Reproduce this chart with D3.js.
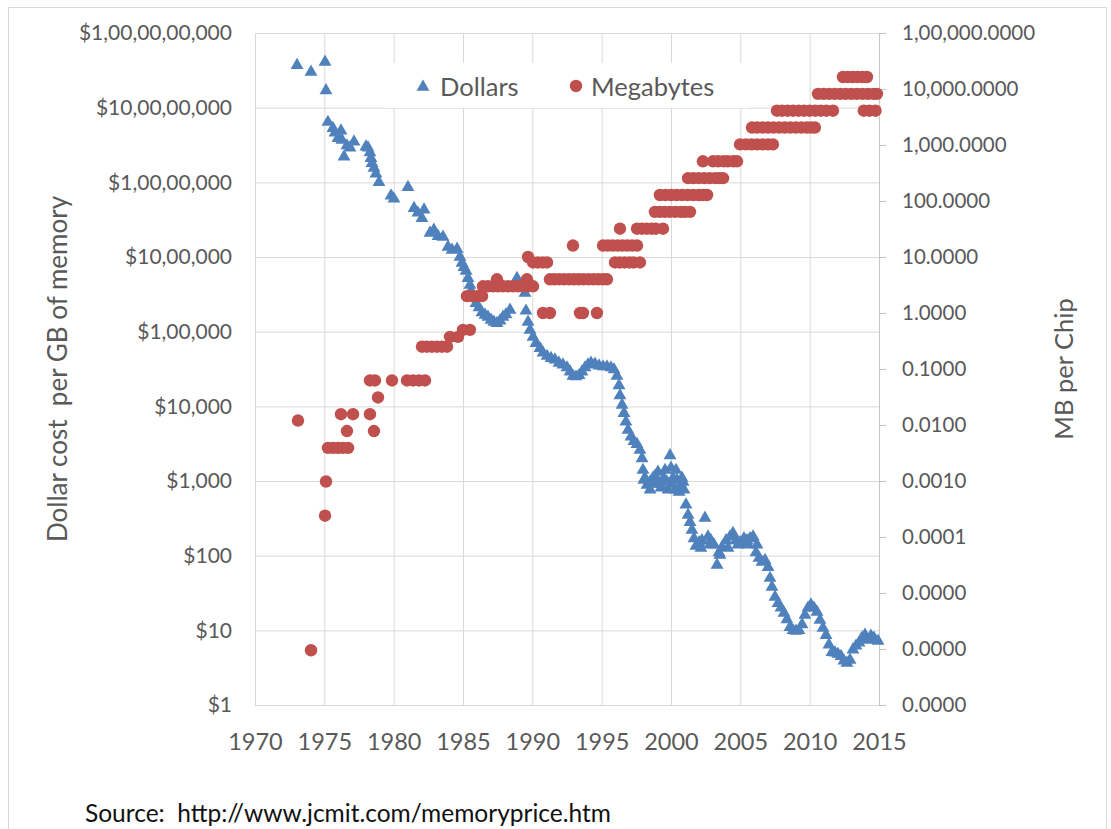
<!DOCTYPE html>
<html><head><meta charset="utf-8">
<script src="https://cdn.jsdelivr.net/npm/d3@7"></script>
<style>
body{margin:0;background:#fff}
svg text{font-family:Lato,"Open Sans",sans-serif}
</style>
</head><body>
<svg id="c" width="1111" height="829"></svg>
<script>
// ---------- data ----------
const xTicks = [1970,1975,1980,1985,1990,1995,2000,2005,2010,2015];
const leftTickValues = [1,10,100,1e3,1e4,1e5,1e6,1e7,1e8,1e9];
const leftTickLabels = ["$1","$10","$100","$1,000","$10,000","$1,00,000","$10,00,000","$1,00,00,000","$10,00,00,000","$1,00,00,00,000"];
const rightTickValues = [1e-7,1e-6,1e-5,1e-4,1e-3,1e-2,1e-1,1,10,100,1e3,1e4,1e5];
const rightTickLabels = ["0.0000","0.0000","0.0000","0.0001","0.0010","0.0100","0.1000","1.0000","10.0000","100.0000","1,000.0000","10,000.0000","1,00,000.0000"];
const seriesNames = ["Dollars","Megabytes"];

const dollarYears = [
1973.03,1974.04,1975.05,1975.12,1975.26,1975.62,1975.77,1975.98,1976.20,1976.27,
1976.42,1976.63,1976.85,1977.14,1978.00,1978.15,1978.29,1978.36,1978.44,1978.58,
1978.72,1978.94,1979.81,1980.02,1981.03,1981.47,1981.75,1982.04,1982.19,1982.62,
1982.90,1983.20,1983.56,1983.92,1984.21,1984.57,1984.78,1984.93,1985.07,1985.22,
1985.36,1985.50,1985.58,1985.72,1985.94,1986.15,1986.37,1986.59,1986.80,1987.02,
1987.23,1987.45,1987.67,1987.88,1988.10,1988.39,1988.89,1989.11,1989.47,1989.54,
1989.69,1989.83,1990.05,1990.26,1990.55,1990.77,1991.06,1991.35,1991.63,1991.92,
1992.21,1992.50,1992.72,1992.93,1993.15,1993.37,1993.58,1993.80,1994.01,1994.23,
1994.52,1994.81,1995.10,1995.38,1995.67,1995.89,1996.10,1996.25,1996.32,1996.47,
1996.61,1996.75,1996.90,1997.11,1997.33,1997.55,1997.76,1997.91,1997.98,1998.05,
1998.27,1998.49,1998.70,1998.92,1999.06,1999.28,1999.49,1999.71,1999.93,2000.00,
2000.14,2000.29,2000.43,2000.65,2000.79,2000.94,2001.08,2001.23,2001.37,2001.51,
2001.66,2001.80,2002.02,2002.23,2002.45,2002.67,2002.88,2003.10,2003.32,2003.46,
2003.68,2003.97,2004.26,2004.47,2004.69,2004.98,2005.26,2005.48,2005.70,2005.92,
2006.13,2006.35,2006.56,2006.78,2007.00,2007.14,2007.28,2007.50,2007.72,2007.93,
2008.15,2008.36,2008.58,2008.80,2009.01,2009.23,2009.45,2009.66,2009.88,2010.09,
2010.31,2010.53,2010.74,2010.96,2011.18,2011.39,2011.61,2011.83,2012.04,2012.26,
2012.47,2012.69,2012.91,2013.12,2013.34,2013.56,2013.77,2013.99,2014.20,2014.42,
2014.64,2014.93,
1998.12,1998.49,1998.85,1999.20,1999.57,1999.78,2000.07,2000.36,2000.58,2000.87,
2002.16,2002.81,2003.53,2004.11,2004.83,2005.55,2006.20];
const dollarValues = [
3.7e8,3.0e8,4.1e8,1.7e8,6.4e7,5.3e7,4.6e7,3.9e7,4.9e7,3.7e7,
2.2e7,3.1e7,2.9e7,3.5e7,3.0e7,2.9e7,2.5e7,2.1e7,1.8e7,1.55e7,
1.3e7,1.0e7,6.6e6,6.0e6,8.6e6,4.5e6,3.9e6,3.3e6,4.3e6,2.1e6,
2.3e6,1.9e6,1.85e6,1.36e6,1.24e6,1.28e6,1.0e6,8.3e5,7.3e5,6.5e5,
5.2e5,4.2e5,3.5e5,2.9e5,2.4e5,2.1e5,1.8e5,1.67e5,1.57e5,1.43e5,
1.35e5,1.3e5,1.4e5,1.57e5,1.7e5,1.95e5,5.2e5,4.2e5,3.3e5,1.9e5,
1.35e5,1.05e5,8.5e4,7.0e4,6.0e4,5.2e4,4.7e4,4.4e4,4.2e4,3.8e4,
3.6e4,3.3e4,2.9e4,2.55e4,2.5e4,2.6e4,2.9e4,3.3e4,3.6e4,3.8e4,
3.7e4,3.5e4,3.4e4,3.4e4,3.3e4,3.1e4,2.55e4,1.9e4,1.4e4,1.04e4,
8.1e3,6.2e3,4.8e3,3.9e3,3.4e3,3.1e3,2.6e3,2.0e3,1.4e3,1.03e3,
880,970,1100,910,1320,810,1100,970,2200,1500,
1100,760,1030,860,1100,760,480,350,280,220,
170,135,150,160,320,180,160,140,75,110,
130,160,180,200,160,150,170,160,170,180,
110,93,82,87,70,50,38,28,23,20,
17,14,11,10,9.8,10,12,16,20,22,
20,17.6,13.7,10.7,8.6,6.4,5.1,5.0,4.8,4.5,
3.9,3.65,4.0,5.5,6.2,6.8,7.9,8.7,7.4,8.4,
7.9,7.2,
1100,760,1170,910,1400,760,910,1400,710,970,
127,140,102,127,140,140,140];

const mbYears = [
1973.10,1974.04,1975.05,1975.12,
1975.26,1975.62,1975.98,1976.34,1976.71,
1976.20,1976.63,1977.07,1978.29,1978.29,1978.58,1978.65,1978.87,
1979.88,1980.96,1981.40,1981.83,1982.26,
1982.04,1982.40,1982.76,1983.12,1983.48,1983.85,
1984.06,1984.64,1985.00,1985.50,
1985.29,1985.65,1986.01,1986.37,
1986.44,1986.80,1987.16,1987.52,1987.88,1988.24,1988.60,1988.96,1989.32,1989.68,1990.05,
1987.45,1989.61,1989.69,
1990.05,1990.40,1990.75,1991.06,
1990.77,1991.27,
1991.27,1991.60,1991.95,1992.30,1992.65,1993.00,1993.35,1993.70,1994.05,1994.40,1994.75,1995.10,1995.38,
1992.93,1993.44,1993.65,1994.66,
1995.10,1995.45,1995.80,1996.15,1996.50,1996.85,1997.20,1997.55,
1995.96,1996.30,1996.65,1997.00,1997.30,1997.76,
1996.32,
1997.55,1997.90,1998.25,1998.60,1998.90,1999.42,
1998.84,1999.20,1999.55,1999.90,2000.30,2000.70,2001.00,2001.37,
1999.20,1999.60,2000.00,2000.40,2000.80,2001.20,2001.60,2002.00,2002.30,2002.60,
2001.23,2001.60,2002.00,2002.40,2002.80,2003.20,2003.50,2003.75,
2002.30,
2003.03,2003.40,2003.80,2004.10,2004.50,2004.76,
2004.98,2005.40,2005.80,2006.20,2006.60,2007.00,2007.35,
2005.84,2006.20,2006.60,2007.00,2007.40,2007.80,2008.20,2008.60,2009.00,2009.40,2009.80,2010.10,2010.38,
2007.64,2008.00,2008.40,2008.80,2009.20,2009.60,2010.00,2010.40,2010.80,2011.20,2011.68,
2010.60,2011.00,2011.40,2011.80,2012.20,2012.60,2013.00,2013.40,2013.80,2014.20,2014.60,2014.85,
2012.40,2012.75,2013.10,2013.45,2013.80,2014.13,
2013.90,2014.30,2014.75];
const mbValues = [
0.012,9.5e-7,2.4e-4,9.8e-4,
0.0039,0.0039,0.0039,0.0039,0.0039,
0.0156,0.0078,0.0156,0.0156,0.0625,0.0078,0.0625,0.031,
0.0625,0.0625,0.0625,0.0625,0.0625,
0.25,0.25,0.25,0.25,0.25,0.25,
0.375,0.375,0.5,0.5,
2,2,2,2,
3,3,3,3,3,3,3,3,3,3,3,
4,4,10,
8,8,8,8,
1,1,
4,4,4,4,4,4,4,4,4,4,4,4,4,
16,1,1,1,
16,16,16,16,16,16,16,16,
8,8,8,8,8,8,
32,
32,32,32,32,32,32,
64,64,64,64,64,64,64,64,
128,128,128,128,128,128,128,128,128,128,
256,256,256,256,256,256,256,256,
512,
512,512,512,512,512,512,
1024,1024,1024,1024,1024,1024,1024,
2048,2048,2048,2048,2048,2048,2048,2048,2048,2048,2048,2048,2048,
4096,4096,4096,4096,4096,4096,4096,4096,4096,4096,4096,
8192,8192,8192,8192,8192,8192,8192,8192,8192,8192,8192,8192,
16384,16384,16384,16384,16384,16384,
4096,4096,4096];

// ---------- layout ----------
const plot = {left:255, right:879, top:33, bottom:705};
const blue = "#4F81BD", red = "#C0504D", grid = "#d9d9d9", txt = "#595959";

const svg = d3.select("#c");
svg.append("rect").attr("x",8.5).attr("y",7.5).attr("width",1098).attr("height",840)
  .attr("fill","#fff").attr("stroke",grid);

const x = d3.scaleLinear().domain([1970,2015]).range([plot.left,plot.right]);
const yL = d3.scaleLog().domain([1,1e9]).range([plot.bottom,plot.top]);
const yR = d3.scaleLog().domain([1e-7,1e5]).range([plot.bottom,plot.top]);

// gridlines
svg.append("g").attr("transform",`translate(${plot.left},0)`)
  .call(d3.axisLeft(yL).tickValues(leftTickValues).tickSize(-(plot.right-plot.left)).tickFormat(""))
  .call(g=>{g.select(".domain").remove(); g.selectAll("line").attr("stroke",grid);});
svg.append("g").attr("transform",`translate(0,${plot.bottom})`)
  .call(d3.axisBottom(x).tickValues(xTicks).tickSize(-(plot.bottom-plot.top)).tickFormat(""))
  .call(g=>{g.select(".domain").attr("stroke",grid); g.selectAll("line").attr("stroke",grid);});

// left axis labels
svg.append("g").attr("transform",`translate(${plot.left},0)`)
  .call(d3.axisLeft(yL).tickValues(leftTickValues).tickSize(0).tickPadding(23)
        .tickFormat((d,i)=>leftTickLabels[i]))
  .call(g=>{g.select(".domain").remove();
    g.selectAll("text").attr("fill",txt).style("font-size","21px");});

// bottom axis labels
svg.append("g").attr("transform",`translate(0,${plot.bottom})`)
  .call(d3.axisBottom(x).tickValues(xTicks).tickSize(0).tickPadding(28).tickFormat(d3.format("d")))
  .call(g=>{g.select(".domain").remove();
    g.selectAll("text").attr("fill",txt).style("font-size","23.5px");});

// right axis
svg.append("g").attr("transform",`translate(${plot.right},0)`)
  .call(d3.axisRight(yR).tickValues(rightTickValues).tickSize(7).tickPadding(16)
        .tickFormat((d,i)=>rightTickLabels[i]))
  .call(g=>{g.select(".domain").attr("stroke","#c6c6c6");
    g.selectAll("line").attr("stroke","#c6c6c6");
    g.selectAll("text").attr("fill",txt).style("font-size","20.5px");});

// axis titles
svg.append("text").attr("transform",`translate(57,${(plot.top+plot.bottom)/2}) rotate(-90)`)
  .attr("text-anchor","middle").attr("dominant-baseline","central")
  .attr("fill",txt).style("font-size","26px")
  .text("Dollar cost\u00a0 per GB of memory");
svg.append("text").attr("transform",`translate(1063,${(plot.top+plot.bottom)/2}) rotate(-90)`)
  .attr("text-anchor","middle").attr("dominant-baseline","central")
  .attr("fill",txt).style("font-size","25.5px").text("MB per Chip");

// series
const tri = d3.symbol().type(d3.symbolTriangle).size(72);
svg.append("g").selectAll("path").data(dollarYears.map((yr,i)=>[yr,dollarValues[i]]))
  .join("path").attr("d",tri)
  .attr("transform",d=>`translate(${x(d[0])},${yL(d[1])})`).attr("fill",blue);

svg.append("g").selectAll("circle").data(mbYears.map((yr,i)=>[yr,mbValues[i]]))
  .join("circle").attr("cx",d=>x(d[0])).attr("cy",d=>yR(d[1])).attr("r",6.2).attr("fill",red);

// legend
const lg = svg.append("g");
lg.append("rect").attr("x",385).attr("y",63).attr("width",365).attr("height",45).attr("fill","#fff");
lg.append("path").attr("d",tri).attr("transform","translate(423,87)").attr("fill",blue);
lg.append("text").attr("x",440).attr("y",86).attr("dominant-baseline","central")
  .attr("fill",txt).style("font-size","25.5px").text(seriesNames[0]);
lg.append("circle").attr("cx",576).attr("cy",86).attr("r",6.2).attr("fill",red);
lg.append("text").attr("x",591).attr("y",86).attr("dominant-baseline","central")
  .attr("fill",txt).style("font-size","25.5px").text(seriesNames[1]);

// source
svg.append("text").attr("x",85).attr("y",822).attr("fill","#111").style("font-size","24.5px")
  .text("Source:\u00a0 http://www.jcmit.com/memoryprice.htm");
</script>
</body></html>
